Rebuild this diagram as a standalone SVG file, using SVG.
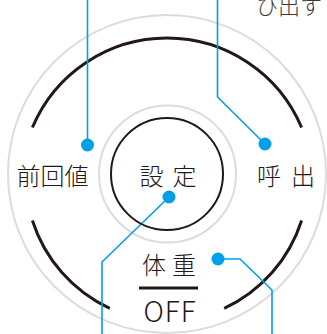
<svg xmlns="http://www.w3.org/2000/svg" width="327" height="334" viewBox="0 0 327 334">
<style>
.gray{fill:none;stroke:#dcdcdc;stroke-width:2}
.ring{fill:none;stroke:#231815;stroke-width:3}
.inner{fill:none;stroke:#231815;stroke-width:2}
.lbl{font-family:"Noto Sans CJK JP","Noto Sans",sans-serif;fill:#231815;font-size:24px;font-weight:300;text-anchor:middle}
.conn{fill:none;stroke:#00a0e9;stroke-width:1.6}
.dot{fill:#00a0e9}
</style>
<rect width="327" height="334" fill="#fff"/>
<g id="dial">
<circle class="gray" cx="167" cy="174" r="159"/>
<path class="ring" d="M 32.4 127.5 A 146 146 0 0 1 301.6 127.5"/>
<path class="ring" d="M 301.6 220.5 A 146 146 0 0 1 224.2 308.4"/>
<path class="ring" d="M 109.8 308.4 A 146 146 0 0 1 32.4 220.5"/>
<circle class="gray" cx="167.5" cy="174" r="68.5"/>
</g>
<g id="connectors">
<polyline class="conn" points="87.5,0 87.5,145"/>
<polyline class="conn" points="217.5,0 217.5,97 265,144"/>
<polyline class="conn" points="169,197 102,262 102,334"/>
<polyline class="conn" points="218,259 240,259 272,290 272,334"/>
</g>
<g id="node-settei">
<circle class="inner" cx="167" cy="174" r="56"/>
<text class="lbl" x="172.5" y="185" letter-spacing="9">設定</text>
</g>
<g id="node-zenkaichi">
<text class="lbl" x="52.5" y="185">前回値</text>
</g>
<g id="node-yobidashi">
<text class="lbl" x="291" y="185" letter-spacing="10">呼出</text>
</g>
<g id="node-taiju">
<text class="lbl" x="172" y="274" letter-spacing="6">体重</text>
<rect x="139" y="286.5" width="59" height="3" fill="#231815"/>
<text class="lbl" x="170" y="322" letter-spacing="1" style="font-size:28px">OFF</text>
</g>
<g id="dots">
<circle class="dot" cx="87.5" cy="145" r="6.5"/>
<circle class="dot" cx="265" cy="144" r="6.5"/>
<circle class="dot" cx="169" cy="197" r="6.5"/>
<circle class="dot" cx="218" cy="259" r="6.5"/>
</g>
<g id="caption">
<text x="256" y="13.5" style="font-family:'Noto Sans CJK JP','Noto Sans',sans-serif;font-size:22px;fill:#3e3a39;font-weight:300">ひ出す</text>
</g>
</svg>
